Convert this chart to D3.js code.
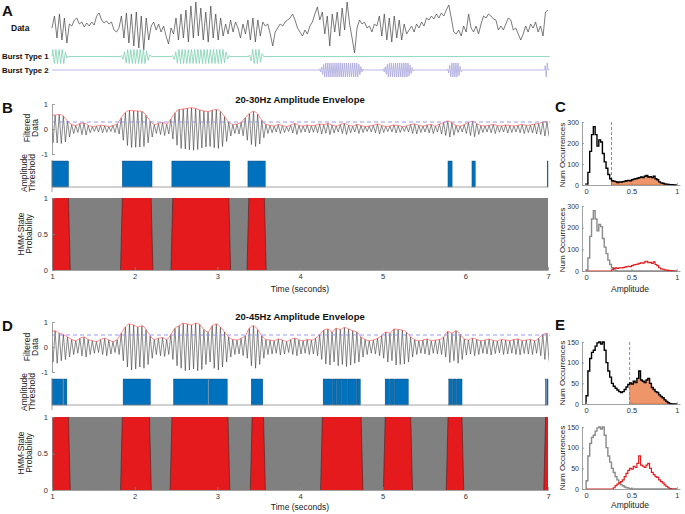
<!DOCTYPE html>
<html><head><meta charset="utf-8">
<script src="https://cdn.jsdelivr.net/npm/d3@7"></script>
<style>body{margin:0;background:#fff}svg{display:block}</style>
</head><body><svg id="c" width="685" height="514"></svg>
<script>
// ---------------- DATA ----------------
const rawData = [0,12,-10,14,-12,10,-15,4,2,8, 10,4,6,1,5,2,6,3,12,15, 8,5,7,4,6,-2,-4,0,12,-10,
 15,-15,14,-18,16,-20,12,-22,10,-12, 2,6,-2,4,-4,2,-8,-16,0,-6, 10,-12,14,-10,18,-14,22,-10,26,-8,
 20,-12,16,-14,22,-10,14,-12,10,-8, 4,-6,8,-4,6,0,-10,4,-6,8, -12,10,-14,8,-8,6,2,4,-6,-18,
 -4,0,4,2,6,8,10,14,8,0, -4,-8,-2,-6,2,6,14,21,8,16, -6,12,-18,14,-4,16,-8,20,-2,26,
 4,-10,-25,0,8,4,6,0,2,-4, 4,2,12,-8,14,-12,10,-14,12,-10, 8,-12,4,-6,-2,2,-4,4,0,6,
 2,10,8,12,9,14,10,15,12,18, 23,10,-4,-6,-2,-8,2,-4,14,0, -4,2,-6,4,12,10,14,12,9,8,
 -2,2,-2,4,10,8,-2,0,-6,-12, -6,2,-4,4,0,6,-4,2,-8,16, 18];
const burstType1 = [[1.00,1.19],[1.83,2.20],[2.45,3.15],[3.38,3.56]];
const burstType2 = [[4.23,4.77],[5.00,5.38],[5.78,5.96],[6.96,7.00]];

const envB = [0.55,0.56,0.58,0.52,0.32,0.18,0.14,0.22,0.24,0.15,
 0.10,0.12,0.15,0.13,0.10,0.14,0.20,0.45,0.66,0.74,
 0.73,0.72,0.70,0.55,0.32,0.18,0.22,0.26,0.20,0.40,
 0.65,0.78,0.80,0.83,0.85,0.82,0.76,0.72,0.70,0.75,
 0.78,0.70,0.50,0.28,0.18,0.20,0.27,0.45,0.62,0.70,
 0.60,0.35,0.18,0.15,0.12,0.18,0.14,0.10,0.16,0.22,
 0.14,0.12,0.16,0.13,0.15,0.20,0.17,0.22,0.16,0.12,
 0.18,0.22,0.15,0.12,0.18,0.14,0.10,0.12,0.15,0.20,
 0.14,0.10,0.12,0.16,0.14,0.10,0.12,0.18,0.20,0.14,
 0.12,0.16,0.18,0.12,0.20,0.26,0.32,0.25,0.14,0.12,
 0.18,0.26,0.31,0.22,0.14,0.12,0.15,0.18,0.13,0.12,
 0.16,0.14,0.12,0.15,0.18,0.14,0.16,0.20,0.22,0.28, 0.30];
const envD = [0.60,0.65,0.55,0.50,0.40,0.30,0.25,0.35,0.40,0.30,
 0.25,0.22,0.30,0.35,0.28,0.22,0.30,0.55,0.80,0.92,
 0.88,0.80,0.85,0.70,0.45,0.30,0.35,0.38,0.30,0.50,
 0.75,0.85,0.95,0.92,0.88,0.95,0.90,0.70,0.60,0.85,
 0.92,0.80,0.60,0.40,0.30,0.28,0.35,0.45,0.75,0.85,
 0.70,0.45,0.30,0.28,0.25,0.32,0.28,0.22,0.30,0.35,
 0.28,0.25,0.30,0.28,0.35,0.50,0.68,0.72,0.60,0.75,
 0.70,0.78,0.72,0.65,0.60,0.40,0.30,0.25,0.28,0.35,
 0.45,0.60,0.55,0.72,0.70,0.68,0.60,0.40,0.30,0.25,
 0.28,0.32,0.25,0.28,0.30,0.40,0.62,0.55,0.65,0.50,
 0.32,0.28,0.35,0.30,0.25,0.28,0.32,0.26,0.24,0.30,
 0.28,0.25,0.30,0.32,0.26,0.28,0.30,0.25,0.35,0.50, 0.55];
const thrB = 0.28, thrD = 0.48;

const ampBarsB = [[1.00,1.20],[1.85,2.21],[2.45,3.15],[3.37,3.58],[5.79,5.84],[6.08,6.12],[6.99,7.00]];
const ampBarsD = [[1.00,1.13],[1.14,1.18],[1.86,2.19],[2.47,2.885],[2.895,3.12],[3.41,3.55],
 [4.28,4.395],[4.40,4.435],[4.44,4.495],[4.50,4.575],[4.58,4.685],[4.69,4.73],
 [5.03,5.085],[5.09,5.145],[5.15,5.31],[5.80,5.845],[5.85,5.895],[5.90,5.96],[6.97,6.975],[6.99,7.00]];

const hmmB = [[1.00,1.21],[1.84,2.21],[2.45,3.15],[3.37,3.58]];
const hmmD = [[1.00,1.21],[1.84,2.19],[2.44,3.14],[3.41,3.57],[4.26,4.75],[5.02,5.35],[5.78,5.97],[6.96,7.00]];

// histograms, 50 bins over amplitude 0..1
const histC_gray = [5,60,160,240,278,240,185,215,205,150,110,80,50,30,15,6,2,0,
 0,0,0,0,0,0,0,0,0,0,0,0,0,0,0,0,0,0,0,0,0,0,0,0,0,0,0,0,0,0,0,0];
const histC_red = [0,0,0,0,0,0,0,0,0,0,0,0,0,0,
 5,12,14,12,15,14,16,18,20,22,20,25,28,30,32,35,38,36,42,45,38,40,35,42,30,25,15,10,8,5,4,3,2,1,0,0];
const histE_gray = [20,80,110,125,130,140,148,150,145,150,130,100,80,65,50,40,30,22,15,10,8,5,3,2,1,
 0,0,0,0,0,0,0,0,0,0,0,0,0,0,0,0,0,0,0,0,0,0,0,0,0];
const histE_red = [0,0,0,0,0,0,0,0,0,0,0,0,0,0,0,
 3,8,12,15,18,22,30,38,45,50,48,55,52,62,80,58,55,52,58,62,50,40,35,30,28,22,18,15,10,6,3,1,0,0,0];

const timeTicks = [1,2,3,4,5,6,7];
const filtTicks = [-1,0,1];
const probTicks = [0,0.5,1];
const histXTicks = [0,0.5,1];
const histCTicks = [0,100,200,300];
const histETicks = [0,50,100,150];

// ---------------- DRAW ----------------
const FONT = "'Liberation Sans', Arial, Helvetica, sans-serif";
const svg = d3.select("#c").attr("font-family", FONT);
const x = d3.scaleLinear().domain([1,7]).range([52,548]);
const AX = "#8a8a8a", TX = "#333";

svg.append("defs").append("clipPath").attr("id","clipT")
  .append("rect").attr("x",52).attr("y",0).attr("width",497).attr("height",514);

function txt(s, px, py, o={}) {
  return svg.append("text").attr("x",px).attr("y",py).text(s)
    .attr("font-size",o.size||8).attr("font-weight",o.weight||"normal")
    .attr("text-anchor",o.anchor||"start").attr("fill",o.fill||"#111");
}
function vlabel(lines, cx, cy, size) {
  const lh = size*1.05;
  lines.forEach((s,i)=>{
    svg.append("text").attr("transform",`translate(${cx-(lines.length-1)/2*lh+i*lh},${cy}) rotate(-90)`)
      .attr("text-anchor","middle").attr("dominant-baseline","central")
      .attr("font-size",size).attr("fill","#222").text(s);
  });
}
function styleAxis(g) {
  g.attr("font-family",FONT).attr("font-size",7.5);
  g.select(".domain").attr("stroke",AX).attr("stroke-width",0.8);
  g.selectAll(".tick line").attr("stroke",AX).attr("stroke-width",0.8);
  g.selectAll(".tick text").attr("fill",TX);
}

// ---- Panel A ----
txt("A",2,16,{size:15,weight:"bold"});
txt("Data",11,31,{size:8.5,weight:"bold"});
txt("Burst Type 1",2,59,{size:7.8,weight:"bold"});
txt("Burst Type 2",2,73,{size:7.8,weight:"bold"});
const yRaw = d3.scaleLinear().domain([-25,25]).range([53,3]);
const rawStep = 6/(rawData.length-1);
svg.append("path").attr("d", d3.line().x((d,i)=>x(1+i*rawStep)).y(d=>yRaw(d))(rawData))
  .attr("fill","none").attr("stroke","#444").attr("stroke-width",0.7);

function burstPts(bursts, half) {
  const pts = [[1,0]];
  bursts.forEach(([s,e])=>{
    pts.push([s,0]);
    const ramp = Math.min(0.25*(e-s), 0.07);
    for (let k=0, t=s+half/2; t<e; k++, t+=half) {
      let a = 1;
      if (s>1.001) a = Math.min(a, (t-s)/ramp);
      if (e<6.999) a = Math.min(a, (e-t)/ramp);
      a = Math.max(0.15, Math.min(1,a));
      pts.push([t, (k%2===0?1:-1)*a]);
    }
    pts.push([e,0]);
  });
  pts.push([7.02,0]);
  return pts;
}
function drawBursts(bursts, half, yb, col) {
  svg.append("path").attr("d", d3.line().x(d=>x(d[0])).y(d=>yb-d[1]*7)(burstPts(bursts,half)))
    .attr("fill","none").attr("stroke",col).attr("stroke-width",0.8);
}
drawBursts(burstType1, 0.019, 56.5, "#7fd0b2");
drawBursts(burstType2, 0.0125, 70, "#a9a6dd");

// ---- Filtered / threshold / HMM panels ----
function filteredPanel(env, thr, y0, y1) {
  const yF = d3.scaleLinear().domain([-1,1]).range([y1,y0]);
  const step = 6/(env.length-1);
  const pts = [];
  env.forEach((a,i)=>{ const t=1+i*step; pts.push([t-step/4, a]); pts.push([t+step/4, -a]); });
  const g = svg.append("g").attr("clip-path","url(#clipT)");
  g.append("path").attr("d", d3.line().x(d=>x(d[0])).y(d=>yF(d[1]))(pts))
    .attr("fill","none").attr("stroke","#3c3c3c").attr("stroke-width",0.6);
  g.append("path").attr("d", d3.line().curve(d3.curveMonotoneX).x((d,i)=>x(1+i*step-step/4)).y(d=>yF(d))(env))
    .attr("fill","none").attr("stroke","#ff6a6a").attr("stroke-width",0.8);
  svg.append("line").attr("x1",x(1)).attr("x2",x(7)+2).attr("y1",yF(thr)).attr("y2",yF(thr))
    .attr("stroke","#8e8ef2").attr("stroke-width",0.9).attr("stroke-dasharray","4,3");
  const ax = svg.append("g").attr("transform",`translate(${x(1)},0)`)
    .call(d3.axisLeft(yF).tickValues(filtTicks).tickFormat(d=>String(d)).tickSize(-3).tickSizeOuter(0).tickPadding(4));
  styleAxis(ax);
}
function thresholdPanel(bars, top, bot) {
  svg.selectAll(null).data(bars).enter().append("rect")
    .attr("x",d=>x(d[0])).attr("width",d=>Math.max(0.8,x(d[1])-x(d[0])))
    .attr("y",top).attr("height",bot-top)
    .attr("fill","#0072bd").attr("stroke","#0b3f6a").attr("stroke-width",0.4);
  svg.append("line").attr("x1",x(1)).attr("x2",x(7)).attr("y1",bot).attr("y2",bot).attr("stroke",AX).attr("stroke-width",0.8);
  svg.append("line").attr("x1",x(1)).attr("x2",x(1)).attr("y1",top-1).attr("y2",bot+5).attr("stroke",AX).attr("stroke-width",0.8);
}
function hmmPanel(ints, top, bot) {
  const yH = d3.scaleLinear().domain([0,1]).range([bot,top]);
  svg.append("rect").attr("x",x(1)).attr("y",top).attr("width",x(7)-x(1)).attr("height",bot-top).attr("fill","#808080");
  const r = 0.022;
  ints.forEach(([s,e])=>{
    const a0 = s<=1.001 ? 1 : s-r/2, a1 = s<=1.001 ? 1 : s+r/2;
    const b0 = e>=6.999 ? 7 : e-r/2, b1 = e>=6.999 ? 7 : e+r/2;
    const poly = [[a0,0],[a1,1],[b0,1],[b1,0]];
    svg.append("path").attr("d", d3.line().x(d=>x(d[0])).y(d=>yH(d[1]))(poly)+"Z").attr("fill","#e41a1c");
    if (s>1.001) svg.append("line").attr("x1",x(a0)).attr("y1",yH(0)).attr("x2",x(a1)).attr("y2",yH(1)).attr("stroke","#4a2020").attr("stroke-width",0.6);
    if (e<6.999) svg.append("line").attr("x1",x(b0)).attr("y1",yH(1)).attr("x2",x(b1)).attr("y2",yH(0)).attr("stroke","#4a2020").attr("stroke-width",0.6);
  });
  const ay = svg.append("g").attr("transform",`translate(${x(1)},0)`)
    .call(d3.axisLeft(yH).tickValues(probTicks).tickFormat(d=>String(d)).tickSize(-3).tickSizeOuter(0).tickPadding(4));
  styleAxis(ay);
  const axb = svg.append("g").attr("transform",`translate(0,${bot})`)
    .call(d3.axisBottom(x).tickValues(timeTicks).tickFormat(d=>String(d)).tickSize(-3).tickSizeOuter(0).tickPadding(4));
  styleAxis(axb);
}

// Panel B
txt("B",2,113,{size:15,weight:"bold"});
txt("20-30Hz Amplitude Envelope",300,103,{size:9.5,weight:"bold",anchor:"middle"});
filteredPanel(envB, thrB, 104, 154);
thresholdPanel(ampBarsB, 161, 187);
hmmPanel(hmmB, 198, 270);
vlabel(["Filtered","Data"],31,128,8.5);
vlabel(["Amplitude","Threshold"],28,173,8.5);
vlabel(["HMM-State","Probability"],25,234,8.5);
txt("Time (seconds)",300,292,{size:8.5,anchor:"middle",fill:"#222"});

// Panel D
txt("D",2,331,{size:15,weight:"bold"});
txt("20-45Hz Amplitude Envelope",300,320,{size:9.5,weight:"bold",anchor:"middle"});
filteredPanel(envD, thrD, 322, 372);
thresholdPanel(ampBarsD, 379, 405);
hmmPanel(hmmD, 417, 490);
vlabel(["Filtered","Data"],31,347,8.5);
vlabel(["Amplitude","Threshold"],28,392,8.5);
vlabel(["HMM-State","Probability"],25,453,8.5);
txt("Time (seconds)",300,510,{size:8.5,anchor:"middle",fill:"#222"});

// ---- Histograms ----
const hx = d3.scaleLinear().domain([-0.045,1.035]).range([582,680]);
function stairs(counts) {
  const w = 1/counts.length;
  const pts = [[0,0]];
  counts.forEach((c,i)=>pts.push([i*w,c]));
  pts.push([1,counts[counts.length-1]]);
  return pts;
}
function histAxes(hy, ticks, bot, top) {
  const ay = svg.append("g").attr("transform","translate(582,0)")
    .call(d3.axisLeft(hy).tickValues(ticks).tickSize(-2).tickSizeOuter(0).tickPadding(3));
  styleAxis(ay);
  ay.attr("font-size",7);
  const ab = svg.append("g").attr("transform",`translate(0,${bot})`)
    .call(d3.axisBottom(hx).tickValues(histXTicks).tickFormat(d=>String(d)).tickSize(-2).tickSizeOuter(0).tickPadding(4));
  styleAxis(ab);
}
function histTotal(gray, red, thr, maxV, ticks, top, bot) {
  const hy = d3.scaleLinear().domain([0,maxV]).range([bot,top]);
  const total = gray.map((g,i)=>g+red[i]);
  const w = 1/total.length;
  const ti = Math.round(thr/w);
  svg.append("line").attr("x1",hx(thr)).attr("x2",hx(thr)).attr("y1",top).attr("y2",bot)
    .attr("stroke","#8080f0").attr("stroke-width",1).attr("stroke-dasharray","3,2");
  const fillPts = total.slice(ti).map((c,k)=>[(ti+k)*w,c]);
  fillPts.push([1,total[total.length-1]]);
  svg.append("path").attr("d", d3.area().curve(d3.curveStepAfter).x(d=>hx(d[0])).y0(bot).y1(d=>hy(d[1]))(fillPts))
    .attr("fill","#ee9569").attr("stroke","#7a3b1c").attr("stroke-width",0.3);
  svg.append("path").attr("d", d3.line().curve(d3.curveStepAfter).x(d=>hx(d[0])).y(d=>hy(d[1]))(stairs(total)))
    .attr("fill","none").attr("stroke","#000").attr("stroke-width",1.4);
  histAxes(hy, ticks, bot, top);
}
function histSplit(gray, red, maxV, ticks, top, bot) {
  const hy = d3.scaleLinear().domain([0,maxV]).range([bot,top]);
  svg.append("path").attr("d", d3.line().curve(d3.curveStepAfter).x(d=>hx(d[0])).y(d=>hy(d[1]))(stairs(gray)))
    .attr("fill","none").attr("stroke","#8a8a8a").attr("stroke-width",1.4);
  svg.append("path").attr("d", d3.line().curve(d3.curveStepAfter).x(d=>hx(d[0])).y(d=>hy(d[1]))(stairs(red)))
    .attr("fill","none").attr("stroke","#e41a1c").attr("stroke-width",1.2);
  histAxes(hy, ticks, bot, top);
}

txt("C",555,112,{size:15,weight:"bold"});
histTotal(histC_gray, histC_red, thrB, 300, histCTicks, 122, 185);
histSplit(histC_gray, histC_red, 300, histCTicks, 206, 271);
vlabel(["Num Occurrences"],562,155,8);
vlabel(["Num Occurrences"],562,240,8);
txt("Amplitude",630,292,{size:8.5,anchor:"middle",fill:"#222"});

txt("E",555,330,{size:15,weight:"bold"});
histTotal(histE_gray, histE_red, thrD, 150, histETicks, 342, 404);
histSplit(histE_gray, histE_red, 150, histETicks, 427, 489);
vlabel(["Num Occurrences"],562,373,8);
vlabel(["Num Occurrences"],562,458,8);
txt("Amplitude",630,508,{size:8.5,anchor:"middle",fill:"#222"});
</script></body></html>
